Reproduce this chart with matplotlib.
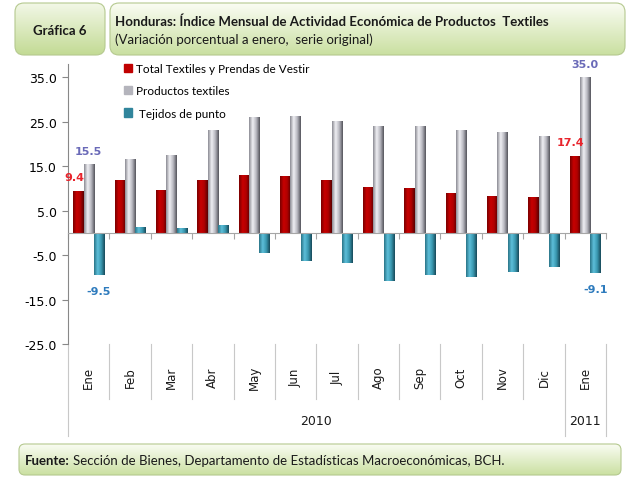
import numpy as np
import matplotlib
matplotlib.use("Agg")
import matplotlib.pyplot as plt
import matplotlib.transforms as mtransforms
from matplotlib.colors import LinearSegmentedColormap
from matplotlib.patches import FancyBboxPatch
from matplotlib.lines import Line2D

months = ["Ene", "Feb", "Mar", "Abr", "May", "Jun", "Jul", "Ago", "Sep", "Oct", "Nov", "Dic", "Ene"]
years = ["2010", "2011"]
year_span = [12, 1]  # months per year

total = [9.4, 11.8, 9.6, 11.8, 13.1, 12.8, 11.8, 10.4, 10.2, 8.9, 8.4, 8.1, 17.4]
productos = [15.5, 16.6, 17.6, 23.1, 26.0, 26.2, 25.1, 24.0, 24.0, 23.1, 22.6, 21.7, 35.0]
tejidos = [-9.5, 1.3, 1.0, 1.8, -4.6, -6.4, -6.7, -10.8, -9.5, -10.0, -8.7, -7.6, -9.1]

series_names = ["Total Textiles y Prendas de Vestir", "Productos textiles", " Tejidos de punto"]

W, H = 630, 481
fig = plt.figure(figsize=(W / 100, H / 100), dpi=100)
fig.patch.set_facecolor("white")


def px_axes(x0, y0, w, h):
    # pixel box (top-left origin) -> figure fraction axes
    return fig.add_axes([x0 / W, 1 - (y0 + h) / H, w / W, h / H])


def green_box(x0, y0, w, h, light="#fbfdf5", dark="#c9df9f", r=9):
    bax = px_axes(x0, y0, w, h)
    bax.axis("off")
    cmap = LinearSegmentedColormap.from_list("g", [light, dark])
    grad = np.linspace(0, 1, 100).reshape(-1, 1)
    im = bax.imshow(grad, cmap=cmap, aspect="auto", extent=[0, w, 0, h], origin="upper")
    bax.set_xlim(0, w)
    bax.set_ylim(0, h)
    patch = FancyBboxPatch((1, 1), w - 2, h - 2, boxstyle=f"round,pad=0,rounding_size={r}",
                           facecolor="none", edgecolor="#b5c98f", lw=0.8)
    bax.add_patch(patch)
    im.set_clip_path(patch)
    return bax


# header boxes
green_box(14, 3, 92, 54, light="#f3f8e8", dark="#c2da93")
green_box(109, 3, 517, 54)
fig.text(60 / W, 1 - 31 / H, "Gráfica 6", fontsize=9.5, fontweight="bold", family="Lato",
         ha="center", va="center", color="#1a1a1a")
fig.text(115 / W, 1 - 22 / H, "Honduras: Índice Mensual de Actividad Económica de Productos  Textiles",
         fontsize=9.5, fontweight="bold", family="Lato", va="center", color="#1a1a1a")
fig.text(115 / W, 1 - 40 / H, "(Variación porcentual a enero,  serie original)",
         fontsize=9.5, family="Lato", va="center", color="#1a1a1a")

# footer box
green_box(18, 444, 604, 33, r=6)

# main chart
ax = fig.add_axes([68 / W, 1 - 345 / H, 538 / W, 280 / H])
x = np.arange(len(months))
bw = 0.25
b1 = ax.bar(x - bw, total, bw, color="#c00000", label=series_names[0], zorder=2)
b2 = ax.bar(x, productos, bw, color="#b4b4bc", label=series_names[1], zorder=2)
b3 = ax.bar(x + bw, tejidos, bw, color="#31859c", label=series_names[2], zorder=2)

# cylinder-like shading on each bar
shades = [
    ["#7a0000", "#c80000", "#b00000", "#5a0000"],
    ["#8c8c94", "#f0f0f4", "#b8b8c0", "#55555c"],
    ["#2a7488", "#5ec0da", "#3a98b0", "#18495a"],
]
for cont, cols in zip([b1, b2, b3], shades):
    cmap = LinearSegmentedColormap.from_list("s", cols)
    for p in cont:
        x0, y0 = p.get_x(), p.get_y()
        w, h = p.get_width(), p.get_height()
        grad = np.linspace(0, 1, 50).reshape(1, -1)
        im = ax.imshow(grad, cmap=cmap, aspect="auto", extent=[x0, x0 + w, y0, y0 + h],
                       zorder=2.5, interpolation="bilinear")
        im.set_clip_path(p)
ax.set_aspect("auto")
ax.set_xlim(-0.5, len(months) - 0.5)
ax.set_ylim(-25, 38)

# data labels for first and last month
lab_font = dict(fontsize=8, fontweight="bold", family="DejaVu Sans")
for i in [0, len(months) - 1]:
    ax.annotate(f"{total[i]:.1f}", (x[i] - bw, total[i]), xytext=(-4, 14), textcoords="offset pixels",
                ha="center", va="center", color="#e8242c", **lab_font)
    ax.annotate(f"{productos[i]:.1f}", (x[i], productos[i]), xytext=(0, 13), textcoords="offset pixels",
                ha="center", va="center", color="#6a6ab8", **lab_font)
    ax.annotate(f"{tejidos[i]:.1f}", (x[i] + bw, tejidos[i]), xytext=(0, -16), textcoords="offset pixels",
                ha="center", va="center", color="#2e7bbd", **lab_font)

# axes styling
for s in ["top", "right"]:
    ax.spines[s].set_visible(False)
ax.spines["left"].set_color("#888888")
ax.spines["bottom"].set_color("#a6a6a6")
ax.spines["bottom"].set_position(("data", 0))
ax.set_yticks(np.arange(-25, 36, 10))
ax.set_yticklabels([f"{v:.1f}" for v in np.arange(-25, 36, 10)], fontsize=9, family="DejaVu Sans")
ax.tick_params(axis="y", length=4, color="#888888", pad=4)
ax.set_xticks(np.arange(-0.5, len(months), 1))
ax.set_xticklabels([])
ax.tick_params(axis="x", length=4, color="#a6a6a6")

# category labels below plot
trans = mtransforms.blended_transform_factory(ax.transData, ax.transAxes)
for i, m in enumerate(months):
    ax.text(i, -0.118, m, rotation=90, transform=trans, ha="center", va="center",
            fontsize=8.5, family="DejaVu Sans", color="#1a1a1a")
bounds = np.cumsum([0] + year_span) - 0.5
for b in np.arange(-0.5, len(months), 1):
    low = -0.33 if b in bounds else -0.196
    ax.add_line(Line2D([b, b], [0, low], transform=trans, color="#c8c8c8", lw=0.8, clip_on=False))
for yr, a, b in zip(years, bounds[:-1], bounds[1:]):
    ax.text((a + b) / 2, -0.275, yr, transform=trans, ha="center", va="center",
            fontsize=9, family="DejaVu Sans", color="#1a1a1a")

leg = ax.legend(loc="upper left", bbox_to_anchor=(0.095, 1.02), frameon=False,
                prop={"family": "Lato", "size": 8.5}, handlelength=0.7, handleheight=0.7,
                handletextpad=0.3, labelspacing=0.95, borderaxespad=0)
for h, c in zip(leg.legend_handles, ["#c00000", "#b4b4bc", "#31859c"]):
    h.set_color(c)

# footer text
fig.canvas.draw()
t1 = fig.text(25 / W, 1 - 461 / H, "Fuente:", fontsize=9.5, fontweight="bold", family="Lato",
              va="center", color="#1a1a1a")
fig.canvas.draw()
bb = t1.get_window_extent()
fig.text((bb.x1 + 3) / W, 1 - 461 / H,
         "Sección de Bienes, Departamento de Estadísticas Macroeconómicas, BCH.",
         fontsize=9.5, family="Lato", va="center", color="#1a1a1a")

fig.savefig("out.png", dpi=100)
